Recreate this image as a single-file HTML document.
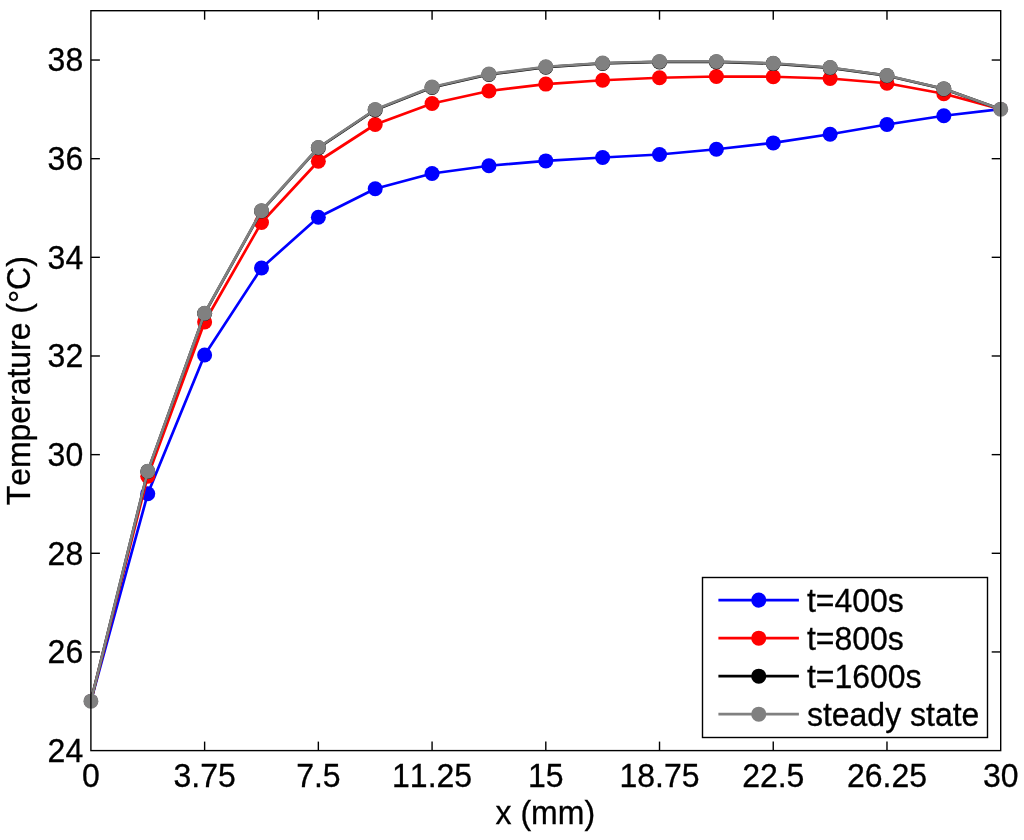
<!DOCTYPE html>
<html><head><meta charset="utf-8"><title>Temperature vs x</title>
<style>
html,body{margin:0;padding:0;background:#fff;}
body{width:1024px;height:840px;overflow:hidden;}
svg{display:block;}
text{font-family:"Liberation Sans",Arial,Helvetica,sans-serif;font-size:32px;fill:#000;stroke:#000;stroke-width:0.3px;font-kerning:none;}
</style></head><body>
<svg width="1024" height="840" viewBox="0 0 1024 840">
<rect width="1024" height="840" fill="#fff"/>

<g fill="#0000ff" stroke="none">
<polyline points="90.90,701.17 147.76,493.75 204.62,355.00 261.49,268.00 318.35,217.25 375.21,188.75 432.08,173.50 488.94,165.75 545.80,160.90 602.66,157.50 659.52,154.50 716.39,149.25 773.25,142.90 830.11,134.25 886.98,124.50 943.84,115.75 1000.70,109.17" fill="none" stroke="#0000ff" stroke-width="2.7" stroke-linejoin="round"/>
<circle cx="90.90" cy="701.17" r="6.9"/>
<circle cx="147.76" cy="493.75" r="7.5"/>
<circle cx="204.62" cy="355.00" r="7.5"/>
<circle cx="261.49" cy="268.00" r="7.5"/>
<circle cx="318.35" cy="217.25" r="7.5"/>
<circle cx="375.21" cy="188.75" r="7.5"/>
<circle cx="432.08" cy="173.50" r="7.5"/>
<circle cx="488.94" cy="165.75" r="7.5"/>
<circle cx="545.80" cy="160.90" r="7.5"/>
<circle cx="602.66" cy="157.50" r="7.5"/>
<circle cx="659.52" cy="154.50" r="7.5"/>
<circle cx="716.39" cy="149.25" r="7.5"/>
<circle cx="773.25" cy="142.90" r="7.5"/>
<circle cx="830.11" cy="134.25" r="7.5"/>
<circle cx="886.98" cy="124.50" r="7.5"/>
<circle cx="943.84" cy="115.75" r="7.5"/>
<circle cx="1000.70" cy="109.17" r="6.9"/>
</g>
<g fill="#ff0000" stroke="none">
<polyline points="90.90,701.17 147.76,476.25 204.62,322.00 261.49,222.50 318.35,161.25 375.21,124.50 432.08,103.50 488.94,91.00 545.80,84.10 602.66,80.25 659.52,77.75 716.39,76.50 773.25,76.75 830.11,78.50 886.98,83.25 943.84,93.75 1000.70,109.17" fill="none" stroke="#ff0000" stroke-width="2.7" stroke-linejoin="round"/>
<circle cx="90.90" cy="701.17" r="6.9"/>
<circle cx="147.76" cy="476.25" r="7.5"/>
<circle cx="204.62" cy="322.00" r="7.5"/>
<circle cx="261.49" cy="222.50" r="7.5"/>
<circle cx="318.35" cy="161.25" r="7.5"/>
<circle cx="375.21" cy="124.50" r="7.5"/>
<circle cx="432.08" cy="103.50" r="7.5"/>
<circle cx="488.94" cy="91.00" r="7.5"/>
<circle cx="545.80" cy="84.10" r="7.5"/>
<circle cx="602.66" cy="80.25" r="7.5"/>
<circle cx="659.52" cy="77.75" r="7.5"/>
<circle cx="716.39" cy="76.50" r="7.5"/>
<circle cx="773.25" cy="76.75" r="7.5"/>
<circle cx="830.11" cy="78.50" r="7.5"/>
<circle cx="886.98" cy="83.25" r="7.5"/>
<circle cx="943.84" cy="93.75" r="7.5"/>
<circle cx="1000.70" cy="109.17" r="6.9"/>
</g>
<g fill="#000000" stroke="none">
<polyline points="90.90,701.17 147.76,471.38 204.62,313.49 261.49,211.07 318.35,147.87 375.21,109.91 432.08,87.45 488.94,74.46 545.80,67.22 602.66,63.47 659.52,61.94 716.39,61.91 773.25,63.61 830.11,67.80 886.98,75.71 943.84,88.89 1000.70,109.17" fill="none" stroke="#000000" stroke-width="2.7" stroke-linejoin="round"/>
<circle cx="90.90" cy="701.17" r="6.9"/>
<circle cx="147.76" cy="471.38" r="7.5"/>
<circle cx="204.62" cy="313.49" r="7.5"/>
<circle cx="261.49" cy="211.07" r="7.5"/>
<circle cx="318.35" cy="147.87" r="7.5"/>
<circle cx="375.21" cy="109.91" r="7.5"/>
<circle cx="432.08" cy="87.45" r="7.5"/>
<circle cx="488.94" cy="74.46" r="7.5"/>
<circle cx="545.80" cy="67.22" r="7.5"/>
<circle cx="602.66" cy="63.47" r="7.5"/>
<circle cx="659.52" cy="61.94" r="7.5"/>
<circle cx="716.39" cy="61.91" r="7.5"/>
<circle cx="773.25" cy="63.61" r="7.5"/>
<circle cx="830.11" cy="67.80" r="7.5"/>
<circle cx="886.98" cy="75.71" r="7.5"/>
<circle cx="943.84" cy="88.89" r="7.5"/>
<circle cx="1000.70" cy="109.17" r="6.9"/>
</g>
<g fill="#808080" stroke="none">
<polyline points="90.90,701.17 147.76,471.25 204.62,313.25 261.49,210.75 318.35,147.50 375.21,109.50 432.08,87.00 488.94,74.00 545.80,66.75 602.66,63.00 659.52,61.50 716.39,61.50 773.25,63.25 830.11,67.50 886.98,75.50 943.84,88.75 1000.70,109.17" fill="none" stroke="#808080" stroke-width="2.7" stroke-linejoin="round"/>
<circle cx="90.90" cy="701.17" r="7.5"/>
<circle cx="147.76" cy="471.25" r="7.5"/>
<circle cx="204.62" cy="313.25" r="7.5"/>
<circle cx="261.49" cy="210.75" r="7.5"/>
<circle cx="318.35" cy="147.50" r="7.5"/>
<circle cx="375.21" cy="109.50" r="7.5"/>
<circle cx="432.08" cy="87.00" r="7.5"/>
<circle cx="488.94" cy="74.00" r="7.5"/>
<circle cx="545.80" cy="66.75" r="7.5"/>
<circle cx="602.66" cy="63.00" r="7.5"/>
<circle cx="659.52" cy="61.50" r="7.5"/>
<circle cx="716.39" cy="61.50" r="7.5"/>
<circle cx="773.25" cy="63.25" r="7.5"/>
<circle cx="830.11" cy="67.50" r="7.5"/>
<circle cx="886.98" cy="75.50" r="7.5"/>
<circle cx="943.84" cy="88.75" r="7.5"/>
<circle cx="1000.70" cy="109.17" r="7.5"/>
</g>
<rect x="90.9" y="10.7" width="909.8000000000001" height="739.9" fill="none" stroke="#000" stroke-width="1.4"/>
<g stroke="#000" stroke-width="1.4" fill="none">
<line x1="204.62" y1="750.6" x2="204.62" y2="741.6"/>
<line x1="204.62" y1="10.7" x2="204.62" y2="19.7"/>
<line x1="318.35" y1="750.6" x2="318.35" y2="741.6"/>
<line x1="318.35" y1="10.7" x2="318.35" y2="19.7"/>
<line x1="432.08" y1="750.6" x2="432.08" y2="741.6"/>
<line x1="432.08" y1="10.7" x2="432.08" y2="19.7"/>
<line x1="545.80" y1="750.6" x2="545.80" y2="741.6"/>
<line x1="545.80" y1="10.7" x2="545.80" y2="19.7"/>
<line x1="659.52" y1="750.6" x2="659.52" y2="741.6"/>
<line x1="659.52" y1="10.7" x2="659.52" y2="19.7"/>
<line x1="773.25" y1="750.6" x2="773.25" y2="741.6"/>
<line x1="773.25" y1="10.7" x2="773.25" y2="19.7"/>
<line x1="886.98" y1="750.6" x2="886.98" y2="741.6"/>
<line x1="886.98" y1="10.7" x2="886.98" y2="19.7"/>
<line x1="90.9" y1="651.95" x2="99.9" y2="651.95"/>
<line x1="1000.7" y1="651.95" x2="991.7" y2="651.95"/>
<line x1="90.9" y1="553.29" x2="99.9" y2="553.29"/>
<line x1="1000.7" y1="553.29" x2="991.7" y2="553.29"/>
<line x1="90.9" y1="454.64" x2="99.9" y2="454.64"/>
<line x1="1000.7" y1="454.64" x2="991.7" y2="454.64"/>
<line x1="90.9" y1="355.99" x2="99.9" y2="355.99"/>
<line x1="1000.7" y1="355.99" x2="991.7" y2="355.99"/>
<line x1="90.9" y1="257.33" x2="99.9" y2="257.33"/>
<line x1="1000.7" y1="257.33" x2="991.7" y2="257.33"/>
<line x1="90.9" y1="158.68" x2="99.9" y2="158.68"/>
<line x1="1000.7" y1="158.68" x2="991.7" y2="158.68"/>
<line x1="90.9" y1="60.03" x2="99.9" y2="60.03"/>
<line x1="1000.7" y1="60.03" x2="991.7" y2="60.03"/>
</g>
<text transform="translate(90.90,787.00) scale(1,1.055)" text-anchor="middle" >0</text>
<text transform="translate(204.62,787.00) scale(1,1.055)" text-anchor="middle" >3.75</text>
<text transform="translate(318.35,787.00) scale(1,1.055)" text-anchor="middle" >7.5</text>
<text transform="translate(432.08,787.00) scale(1,1.055)" text-anchor="middle" >11.25</text>
<text transform="translate(545.80,787.00) scale(1,1.055)" text-anchor="middle" >15</text>
<text transform="translate(659.52,787.00) scale(1,1.055)" text-anchor="middle" >18.75</text>
<text transform="translate(773.25,787.00) scale(1,1.055)" text-anchor="middle" >22.5</text>
<text transform="translate(886.98,787.00) scale(1,1.055)" text-anchor="middle" >26.25</text>
<text transform="translate(1000.70,787.00) scale(1,1.055)" text-anchor="middle" >30</text>
<text transform="translate(83.20,761.85) scale(1,1.055)" text-anchor="end" >24</text>
<text transform="translate(83.20,663.20) scale(1,1.055)" text-anchor="end" >26</text>
<text transform="translate(83.20,564.54) scale(1,1.055)" text-anchor="end" >28</text>
<text transform="translate(83.20,465.89) scale(1,1.055)" text-anchor="end" >30</text>
<text transform="translate(83.20,367.24) scale(1,1.055)" text-anchor="end" >32</text>
<text transform="translate(83.20,268.58) scale(1,1.055)" text-anchor="end" >34</text>
<text transform="translate(83.20,169.93) scale(1,1.055)" text-anchor="end" >36</text>
<text transform="translate(83.20,71.28) scale(1,1.055)" text-anchor="end" >38</text>
<text transform="translate(545.30,824.40) scale(1,1.03)" text-anchor="middle" >x (mm)</text>
<text transform="translate(29.6,505.3) rotate(-90) scale(0.998,1.035)" text-anchor="start">Temperature (<tspan dy="2.2" font-size="33">°</tspan><tspan dy="-2.2">C)</tspan></text>
<rect x="702.5" y="577.5" width="285.0" height="160.0" fill="#fff" stroke="#000" stroke-width="1.4"/>
<line x1="718.4" y1="600.1" x2="798.9" y2="600.1" stroke="#0000ff" stroke-width="2.7"/>
<circle cx="758.75" cy="600.1" r="7.55" fill="#0000ff"/>
<text transform="translate(806.90,611.65) scale(1,1.055)" text-anchor="start" >t=400s</text>
<line x1="718.4" y1="638.2" x2="798.9" y2="638.2" stroke="#ff0000" stroke-width="2.7"/>
<circle cx="758.75" cy="638.2" r="7.55" fill="#ff0000"/>
<text transform="translate(806.90,649.75) scale(1,1.055)" text-anchor="start" >t=800s</text>
<line x1="718.4" y1="676.2" x2="798.9" y2="676.2" stroke="#000000" stroke-width="2.7"/>
<circle cx="758.75" cy="676.2" r="7.55" fill="#000000"/>
<text transform="translate(806.90,687.75) scale(1,1.055)" text-anchor="start" >t=1600s</text>
<line x1="718.4" y1="714.2" x2="798.9" y2="714.2" stroke="#808080" stroke-width="2.7"/>
<circle cx="758.75" cy="714.2" r="7.55" fill="#808080"/>
<text transform="translate(806.90,725.75) scale(1,1.02)" text-anchor="start" >steady state</text>
</svg></body></html>
